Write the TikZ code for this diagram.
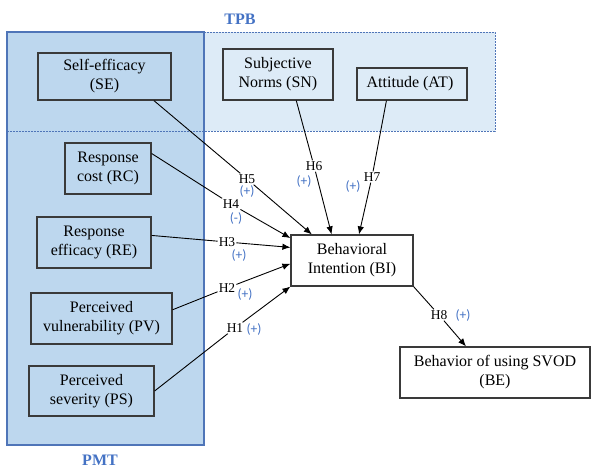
\documentclass[tikz,border=0pt]{standalone}
\usepackage{fontspec}
\setmainfont{Liberation Serif}
\newfontfamily\signfont{Carlito}
\usetikzlibrary{arrows.meta}

\definecolor{pmtfill}{HTML}{BDD7EE}
\definecolor{tpbfill}{HTML}{DDEBF7}
\definecolor{frameblue}{HTML}{4F75B8}
\definecolor{labelblue}{HTML}{4472C4}
\definecolor{boxline}{HTML}{3A3A3A}

\begin{document}
\begin{tikzpicture}[x=1pt, y=-1pt,
        var/.style={draw=boxline, line width=1.2pt, align=center, inner sep=2pt, font=\fontsize{16}{19}\selectfont},
        hyp/.style={inner sep=1pt, font=\fontsize{13.5}{13.5}\selectfont},
        sign/.style={inner sep=0pt, text=labelblue, font=\signfont\fontsize{13.5}{13.5}\selectfont},
        region/.style={text=labelblue, font=\fontsize{16}{16}\selectfont\bfseries},
        link/.style={line width=0.9pt, -{Latex[length=8pt,width=6.5pt]}}]
        \useasboundingbox (0, 0) rectangle (592, 468);

        \fill[tpbfill] (7, 32) rectangle (495, 131);
        \draw[frameblue, line width=1.5pt, fill=pmtfill] (7, 32) rectangle (204, 445);
        \draw[frameblue, line width=0.8pt, dash pattern=on 2pt off 1pt] (204, 32) -- (495, 32) -- (495, 131) -- (7, 131);

        \node[region] (tpb) at (240, 19) { TPB };
        \node[region] (pmt) at (100, 460) { PMT };

        \node[var, minimum width=133, minimum height=47] (se) at (104.5, 76.5) { Self-efficacy\\(SE) };
        \node[var, minimum width=110, minimum height=51] (sn) at (278, 74.5) { Subjective\\Norms (SN) };
        \node[var, minimum width=110, minimum height=32] (att) at (412, 84) { Attitude (AT) };
        \node[var, minimum width=86, minimum height=51] (rc) at (108, 168.5) { Response\\cost (RC) };
        \node[var, minimum width=114, minimum height=51] (re) at (94, 242.5) { Response\\efficacy (RE) };
        \node[var, minimum width=141, minimum height=51] (pv) at (101.5, 318.5) { Perceived\\vulnerability (PV) };
        \node[var, minimum width=125, minimum height=50] (ps) at (91.5, 391) { Perceived\\severity (PS) };
        \node[var, minimum width=122, minimum height=51] (bi) at (352, 260.5) { Behavioral\\Intention (BI) };
        \node[var, minimum width=190, minimum height=51] (be) at (495, 372.5) { Behavior of using SVOD\\(BE) };

        \node[hyp] (h5) at (247, 179) { H5 };
        \node[sign] (s5) at (247, 191) { (+) };
        \node[hyp] (h4) at (231, 204) { H4 };
        \node[sign] (s4) at (236, 218) { (-) };
        \node[hyp] (h3) at (227, 242) { H3 };
        \node[sign] (s3) at (239, 255) { (+) };
        \node[hyp] (h2) at (227, 288) { H2 };
        \node[sign] (s2) at (245, 294) { (+) };
        \node[hyp] (h1) at (235, 328) { H1 };
        \node[sign] (s1) at (254, 329) { (+) };
        \node[hyp] (h6) at (314, 166) { H6 };
        \node[sign] (s6) at (304, 181) { (+) };
        \node[hyp] (h7) at (372, 177) { H7 };
        \node[sign] (s7) at (353, 186) { (+) };
        \node[hyp] (h8) at (439, 315) { H8 };
        \node[sign] (s8) at (463, 315) { (+) };

        \draw[link] (se.-26) -- (h5) -- (bi.147);
        \draw[link] (rc.19) -- (h4) -- (bi.160);
        \draw[link] (re.7) -- (h3) -- (bi.168);
        \draw[link] (pv.7) -- (h2) -- (bi.183);
        \draw[link] (ps.east) -- (h1) -- (bi.south west);
        \draw[link] (sn.-55) -- (h6) -- (bi.128);
        \draw[link] (att.213) -- (h7) -- (bi.75);
        \draw[link] (bi.south east) -- (h8) -- (be.138);

    \end{tikzpicture}
\end{document}
